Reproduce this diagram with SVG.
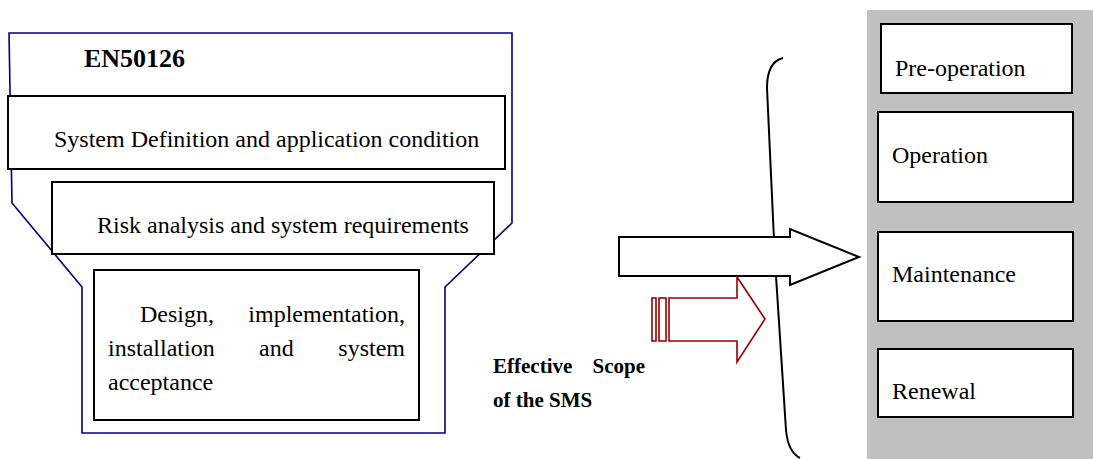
<svg xmlns="http://www.w3.org/2000/svg" width="1093" height="459" viewBox="0 0 1093 459">
<style>
  .box { fill: #ffffff; stroke: #000000; stroke-width: 2; }
  .t { font-family: "Liberation Serif", "Times New Roman", serif; font-size: 24px; fill: #000000; }
  .b { font-family: "Liberation Serif", "Times New Roman", serif; font-weight: bold; fill: #000000; }
  .red { fill: #ffffff; stroke: #990000; stroke-width: 1.6; }
</style>
<rect x="0" y="0" width="1093" height="459" fill="#ffffff"/>

<g id="en50126">
  <path d="M9,33 L512,33 L512,223 L445,287 L445,433 L82,433 L82,287 L12,203 Z" fill="#ffffff" stroke="#000080" stroke-width="1.6"/>
  <text class="b" x="84" y="67" font-size="26">EN50126</text>
</g>

<g id="system-definition">
  <rect class="box" x="8" y="96" width="497" height="73"/>
  <text class="t" x="54" y="147">System Definition and application condition</text>
</g>

<g id="risk-analysis">
  <rect class="box" x="52" y="182" width="442" height="72"/>
  <text class="t" x="97" y="233">Risk analysis and system requirements</text>
</g>

<g id="design">
  <rect class="box" x="94" y="270" width="325" height="150"/>
  <text class="t" x="140" y="322">Design,</text>
  <text class="t" x="405" y="322" text-anchor="end">implementation,</text>
  <text class="t" x="108" y="356">installation</text>
  <text class="t" x="259" y="356">and</text>
  <text class="t" x="405" y="356" text-anchor="end">system</text>
  <text class="t" x="108" y="390">acceptance</text>
</g>

<g id="scope-label">
  <text class="b" x="493" y="373" font-size="21">Effective</text>
  <text class="b" x="645" y="373" font-size="21" text-anchor="end">Scope</text>
  <text class="b" x="493" y="407" font-size="21">of the SMS</text>
</g>

<g id="lifecycle">
  <rect x="867" y="10" width="226" height="449" fill="#c0c0c0"/>
  <g id="pre-operation">
    <rect class="box" x="881" y="24" width="191" height="69"/>
    <text class="t" x="895" y="76">Pre-operation</text>
  </g>
  <g id="operation">
    <rect class="box" x="878" y="112" width="195" height="90"/>
    <text class="t" x="892" y="163">Operation</text>
  </g>
  <g id="maintenance">
    <rect class="box" x="878" y="232" width="195" height="89"/>
    <text class="t" x="892" y="282">Maintenance</text>
  </g>
  <g id="renewal">
    <rect class="box" x="878" y="349" width="195" height="68"/>
    <text class="t" x="892" y="399">Renewal</text>
  </g>
</g>

<g id="connectors">
  <path d="M783,58 Q767,62 767,88 L774,240 L770,257 L776,276 L786,430 Q788,452 800,458" fill="none" stroke="#000000" stroke-width="2"/>
  <path d="M619,237 L790,237 L790,229 L859,257 L790,285 L790,276 L619,276 Z" fill="#ffffff" stroke="#000000" stroke-width="2"/>
  <rect class="red" x="652" y="298" width="4" height="43"/>
  <rect class="red" x="659" y="298" width="7" height="43"/>
  <path class="red" d="M669,298 L737,298 L737,277 L765,319 L737,362 L737,341 L669,341 Z"/>
</g>
</svg>
